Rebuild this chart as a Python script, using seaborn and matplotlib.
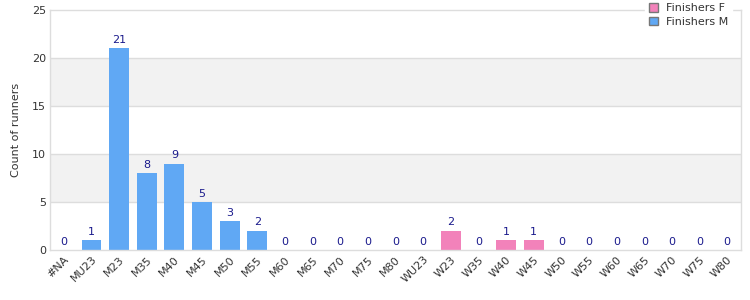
import matplotlib
matplotlib.use("Agg")
import matplotlib.pyplot as plt
import seaborn as sns
import pandas as pd
from matplotlib.patches import Patch

categories = ["#NA", "MU23", "M23", "M35", "M40", "M45", "M50", "M55", "M60", "M65",
              "M70", "M75", "M80", "WU23", "W23", "W35", "W40", "W45", "W50", "W55",
              "W60", "W65", "W70", "W75", "W80"]
counts = [0, 1, 21, 8, 9, 5, 3, 2, 0, 0, 0, 0, 0, 0, 2, 0, 1, 1, 0, 0, 0, 0, 0, 0, 0]
series = ["Finishers M"] * 13 + ["Finishers F"] * 12
yticks = [0, 5, 10, 15, 20, 25]

col_m = "#60A8F4"
col_f = "#F282BA"
label_col = "#1A1A8C"

sns.set_style("white")
plt.rcParams["font.family"] = ["DejaVu Sans"]

df = pd.DataFrame({"cat": categories, "count": counts, "series": series})

fig = plt.figure(figsize=(7.5, 3), dpi=100)
ax = fig.add_axes([50 / 750, 50 / 300, 691 / 750, 240 / 300])

# alternating bands
for i, (lo, hi) in enumerate(zip(yticks[:-1], yticks[1:])):
    if i % 2 == 1:
        ax.axhspan(lo, hi, color="#F2F2F2", zorder=0, lw=0)
for y in yticks[1:-1]:
    ax.axhline(y, color="#DDDDDD", lw=1, zorder=0.5)

sns.barplot(data=df, x="cat", y="count", hue="series", dodge=False,
            palette={"Finishers M": col_m, "Finishers F": col_f},
            saturation=1, linewidth=0,
            width=0.72, ax=ax, legend=False, order=categories, zorder=2)

for i, v in enumerate(counts):
    ax.text(i, v + 0.35, str(v), ha="center", va="bottom", fontsize=8, color=label_col)

ax.set_xlim(-0.5, len(categories) - 0.5)
ax.set_ylim(0, 25)
ax.set_yticks(yticks)
ax.set_yticklabels([str(t) for t in yticks], fontsize=8, color="#333333")
ax.set_xticks(range(len(categories)))
ax.set_xticklabels(categories, rotation=45, ha="right", rotation_mode="anchor",
                   fontsize=8, color="#333333")
ax.tick_params(axis="both", length=0, pad=3)
ax.set_xlabel("")
ax.set_ylabel("Count of runners", fontsize=8, color="#333333", labelpad=8)
for s in ax.spines.values():
    s.set_color("#DDDDDD")
    s.set_linewidth(1)

handles = [Patch(facecolor=col_f, edgecolor="#777777", label="Finishers F"),
           Patch(facecolor=col_m, edgecolor="#777777", label="Finishers M")]
leg = ax.legend(handles=handles, loc="upper right", bbox_to_anchor=(0.995, 1.065),
                frameon=True, fontsize=8, handlelength=0.8, handleheight=0.8,
                handletextpad=0.8, labelspacing=0.3, borderpad=0.3, fancybox=False)
leg.get_frame().set_facecolor("white")
leg.get_frame().set_edgecolor("white")
leg.get_frame().set_alpha(1)
for t in leg.get_texts():
    t.set_color("#333333")

fig.savefig("out.png", dpi=100)
